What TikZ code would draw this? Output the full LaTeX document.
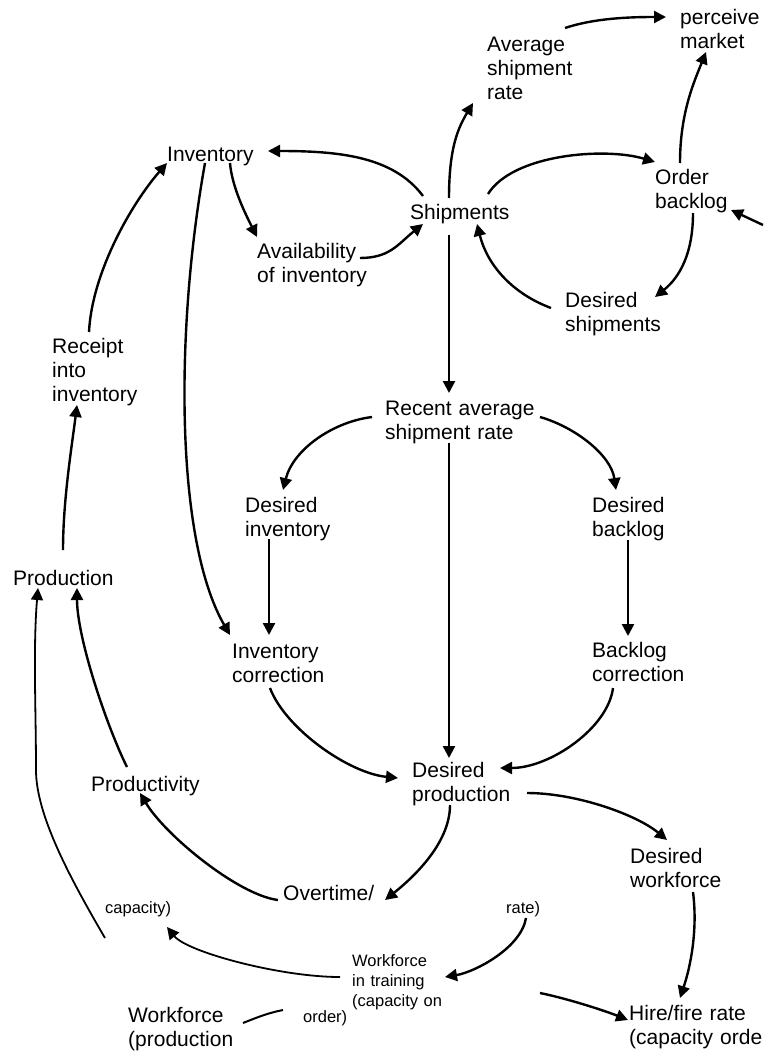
\documentclass[tikz,border=0pt]{standalone}
\usepackage{fontspec}
\setmainfont{Liberation Sans}
\usetikzlibrary{arrows.meta,calc}

\tikzset{
	var/.style={anchor=base west, inner sep=0pt, text width=170pt, align=left, font=\fontsize{21}{24}\selectfont},
	smallvar/.style={var, font=\fontsize{16.5}{20}\selectfont},
	link/.style={line width=2.4pt, -{Triangle[length=12pt,width=12pt]}},
	thinlink/.style={link, line width=1.8pt},
	plainlink/.style={line width=2pt},
}

\begin{document}
\begin{tikzpicture}[x=1pt, y=-1pt]
	\useasboundingbox (0,0) rectangle (763,1051);

	% variables
	\node[var] (inv) at (167,161) {Inventory};
	\node[var] (ship) at (410,219) {Shipments};
	\node[var] (avail) at (257,258) {Availability\\of inventory};
	\node[var] (avgship) at (487,52) {Average\\shipment\\rate};
	\node[var] (perc) at (680,25) {perceive\\market};
	\node[var] (order) at (655,185) {Order\\backlog};
	\node[var] (desship) at (565,307) {Desired\\shipments};
	\node[var] (recent) at (385,415) {Recent average\\shipment rate};
	\node[var] (desinv) at (245,512) {Desired\\inventory};
	\node[var] (desback) at (592,512) {Desired\\backlog};
	\node[var] (receipt) at (52,353) {Receipt\\into\\inventory};
	\node[var] (prod) at (13,585) {Production};
	\node[var] (invcor) at (232,658) {Inventory\\correction};
	\node[var] (backcor) at (592,657) {Backlog\\correction};
	\node[var] (desprod) at (412,777) {Desired\\production};
	\node[var] (productiv) at (91,791) {Productivity};
	\node[var] (deswork) at (630,863) {Desired\\workforce};
	\node[var] (overtime) at (283,900) {Overtime/};
	\node[smallvar] (capsmall) at (105,913) {capacity)};
	\node[smallvar] (ratesmall) at (506,913) {rate)};
	\node[smallvar] (training) at (352,966) {Workforce\\in training\\(capacity on};
	\node[smallvar] (ordersmall) at (303,1022) {order)};
	\node[var] (workprod) at (128,1022) {Workforce\\(production};
	\node[var] (hire) at (629,1020) {Hire/fire rate\\(capacity orde};

	% loose ends
	\coordinate (wpc) at (105,938);
	\coordinate (obin) at (763,225);
	\coordinate (hirein) at (540,993);

	% upper loops
	\draw[link] ($(receipt.base west)+(37,-21)$) .. controls +(3,-60) and +(-35,40) .. ($(inv.base west)+(0,2)$);
	\draw[link] ($(prod.base west)+(50,-35)$) .. controls +(0,-50) and +(-5,40) .. ($(receipt.base west)+(25,52)$);
	\draw[link] ($(ship.base west)+(13,-23)$) .. controls +(-30,-40) and +(70,0) .. ($(inv.base west)+(101,-10)$);
	\draw[link] ($(inv.base west)+(63,2)$) .. controls +(2,25) and +(-10,-20) .. ($(avail.base west)+(0,-21)$);
	\draw[link] ($(avail.base west)+(103,0)$) .. controls +(30,0) and +(-25,20) .. ($(ship.base west)+(13,5)$);
	\draw[link] ($(ship.base west)+(39,-21)$) .. controls +(0,-50) and +(-15,25) .. ($(avgship.base west)+(-14,51)$);
	\draw[link] ($(avgship.base west)+(78,-24)$) .. controls +(30,-10) and +(-35,0) .. ($(perc.base west)+(-14,-8)$);
	\draw[link] ($(ship.base west)+(78,-25)$) .. controls +(25,-40) and +(-50,-15) .. ($(order.base west)+(0,-23)$);
	\draw[link] ($(order.base west)+(25,-22)$) .. controls +(0,-50) and +(-12,30) .. ($(perc.base west)+(26,27)$);
	\draw[link] (obin) -- ($(order.base west)+(76,25)$);
	\draw[link] ($(order.base west)+(38,28)$) .. controls +(0,40) and +(25,-20) .. ($(desship.base west)+(90,-10)$);
	\draw[link] ($(desship.base west)+(-14,1)$) .. controls +(-40,-15) and +(10,40) .. ($(ship.base west)+(67,5)$);

	% middle
	\draw[link] ($(ship.base west)+(39,16)$) -- ($(recent.base west)+(64,-22)$);
	\draw[link] ($(recent.base west)+(-13,2)$) .. controls +(-40,5) and +(10,-40) .. ($(desinv.base west)+(38,-22)$);
	\draw[link] ($(recent.base west)+(155,2)$) .. controls +(35,10) and +(-5,-35) .. ($(desback.base west)+(24,-22)$);
	\draw[link] ($(recent.base west)+(64,28)$) -- ($(desprod.base west)+(37,-19)$);
	\draw[link] ($(inv.base west)+(38,2)$) .. controls +(-30,167) and +(-55,-95) .. ($(invcor.base west)+(-2,-23)$);
	\draw[link] ($(desinv.base west)+(24,27)$) -- ($(invcor.base west)+(37,-23)$);
	\draw[link] ($(desback.base west)+(36,28)$) -- ($(backcor.base west)+(36,-21)$);
	\draw[link] ($(invcor.base west)+(38,30)$) .. controls +(15,40) and +(-50,-5) .. ($(desprod.base west)+(-14,1)$);
	\draw[link] ($(backcor.base west)+(21,31)$) .. controls +(-5,40) and +(50,0) .. ($(desprod.base west)+(88,-9)$);

	% lower part
	\draw[link] ($(desprod.base west)+(115,16)$) .. controls +(50,0) and +(-30,-25) .. ($(deswork.base west)+(37,-23)$);
	\draw[link] ($(desprod.base west)+(38,28)$) .. controls +(0,40) and +(25,-20) .. ($(overtime.base west)+(102,0)$);
	\draw[link] ($(overtime.base west)+(-5,0)$) .. controls +(-40,-5) and +(25,42) .. ($(productiv.base west)+(49,2)$);
	\draw[link] ($(productiv.base west)+(36,-24)$) .. controls +(-20,-40) and +(0,50) .. ($(prod.base west)+(64,3)$);
	\draw[thinlink] (wpc) .. controls +(-35,-60) and +(0,45) .. ($(wpc)+(-69,-168)$)
		.. controls +(0,-60) and +(-5,60) .. ($(prod.base west)+(25,3)$);
	\draw[thinlink] ($(training.base west)+(-12,11)$) .. controls +(-60,0) and +(20,25) .. ($(capsmall.base west)+(62,14)$);
	\draw[link] ($(ratesmall.base west)+(20,5)$) .. controls +(-5,30) and +(30,-5) .. ($(training.base west)+(93,11)$);
	\draw[link] ($(deswork.base west)+(63,29)$) .. controls +(5,40) and +(10,-30) .. ($(hire.base west)+(51,-22)$);
	\draw[link] (hirein) .. controls +(25,5) and +(-25,-10) .. ($(hire.base west)+(-1,0)$);
	\draw[plainlink] ($(workprod.base west)+(115,1)$) .. controls +(15,-6) and +(-15,3) .. ($(ordersmall.base west)+(-20,-12)$);
\end{tikzpicture}
\end{document}
